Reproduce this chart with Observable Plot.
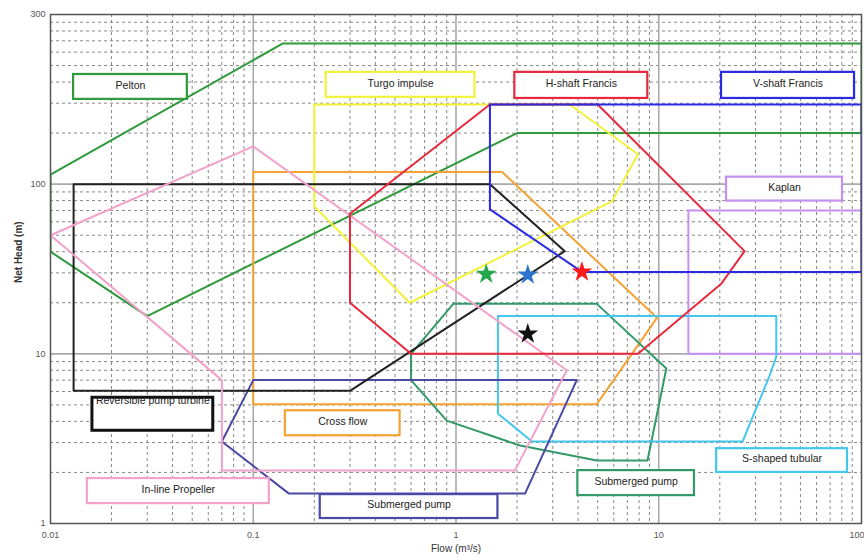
<!DOCTYPE html>
<html><head><meta charset="utf-8">
<script src="https://cdn.jsdelivr.net/npm/d3@7"></script>
<script src="https://cdn.jsdelivr.net/npm/@observablehq/plot@0.6"></script>
<style>body{margin:0;background:#fff;}</style>
</head><body><div id="chart"></div>
<script>
// Tick values and labels
const xTicks = [0.01, 0.1, 1, 10, 100];
const xTickLabels = ["0.01", "0.1", "1", "10", "100"];
const yTicks = [1, 10, 100, 1000];
const yTickLabels = ["1", "10", "100", "300"];

// Application ranges: [flow m3/s, net head m] vertices
const pelton = [[0.01,114],[0.14,675],[100,675],[100,200],[2,200],[0.03,16.7],[0.01,40]];
const turgo = [[0.2,295],[3.64,295],[7.9,150],[5.9,79.5],[0.59,20],[0.2,74]];
const hFrancis = [[1.47,295],[5,295],[26.5,40.3],[20.4,26],[7.9,10],[0.6,10],[0.3,20],[0.3,67]];
const vFrancis = [[1.47,295],[100,295],[100,30.4],[4.18,30.4],[1.47,71]];
const kaplan = [[14,70],[100,70],[100,10],[14,10]];
const crossFlow = [[0.1,118],[1.69,118],[9.8,16.3],[4.95,5.05],[0.1,5.05]];
const reversible = [[0.013,100],[1.47,100],[3.44,40.3],[0.3,6.05],[0.013,6.05]];
const inlineProp = [[0.01,50],[0.1,167],[3.52,8],[1.95,2.05],[0.07,2.05],[0.07,7],[0.01,50]];
const submergedNavy = [[0.07,3.04],[0.1,7],[3.94,7],[2.19,1.5],[0.15,1.5]];
const submergedGreen = [[0.6,10],[0.97,19.7],[4.95,19.7],[10.9,8.2],[8.8,2.35],[4.95,2.35],[2.07,2.88],[0.9,4.04],[0.6,7]];
const sTubular = [[1.61,16.7],[38,16.7],[38,9.6],[35,7.3],[25.9,3.04],[2.37,3.04],[1.61,4.44]];

const shapeNames = ["Pelton","Kaplan","Cross flow","Turgo impulse","Submerged pump (green)","S-shaped tubular","Submerged pump","Reversible pump turbine","In-line Propeller","H-shaft Francis","V-shaft Francis"];
const shapeData = [pelton,kaplan,crossFlow,turgo,submergedGreen,sTubular,submergedNavy,reversible,inlineProp,hFrancis,vFrancis];
const shapeColors = ["#2f9a3c","#c690f0","#f5a234","#f2f23a","#34996a","#44c6ee","#4b48a6","#222222","#f2a2c8","#e8283c","#2a2ae2"];

// Operating points (stars)
const starFlow = [1.41, 2.26, 4.18, 2.26];
const starHead = [29.5, 29.2, 30.4, 13.1];
const starColors = ["#22a84a", "#2d72cc", "#ff1a1a", "#111111"];

// Label boxes (annotation positions in data units)
const labelText = ["Pelton","Turgo impulse","H-shaft Francis","V-shaft Francis","Kaplan","Reversible pump turbine","Cross flow","In-line Propeller","Submerged pump","Submerged pump","S-shaped tubular"];
const labelColors = ["#2f9a3c","#f2f23a","#e8283c","#2a2ae2","#c690f0","#111111","#f5a234","#f2a2c8","#4b48a6","#34996a","#44c6ee"];
const labelX1 = [0.013,0.229,1.95,20.4,21.6,0.0161,0.144,0.0152,0.214,3.99,19.3];
const labelX2 = [0.0473,1.24,8.83,92.4,80.6,0.0635,0.53,0.12,1.61,15.0,85.3];
const labelY1 = [443,456,456,456,110,5.51,4.62,1.84,1.48,2.05,2.76];
const labelY2 = [316,325,320,320,79.5,3.52,3.29,1.31,1.07,1.46,2.0];

const lines = [];
shapeData.forEach((pts, i) => {
  pts.concat([pts[0]]).forEach(p => lines.push({name: shapeNames[i], color: shapeColors[i], flow: p[0], head: p[1]}));
});
const stars = starFlow.map((f, i) => ({flow: f, head: starHead[i], color: starColors[i]}));
const labels = labelText.map((t, i) => ({text: t, color: labelColors[i], x1: labelX1[i], x2: labelX2[i], y1: labelY1[i], y2: labelY2[i], top: t.startsWith("Reversible")}));

const minorX = [], minorY = [];
[0.01, 0.1, 1, 10].forEach(d => { for (let k = 2; k <= 9; k++) minorX.push(d * k); });
[1, 10, 100].forEach(d => { for (let k = 2; k <= 9; k++) minorY.push(d * k); });

const chart = Plot.plot({
  width: 864, height: 558,
  marginLeft: 50, marginRight: 3, marginTop: 14, marginBottom: 35,
  x: {type: "log", domain: [0.01, 100]},
  y: {type: "log", domain: [1, 1000]},
  color: {type: "identity"},
  style: {fontFamily: "Liberation Sans, Arial, sans-serif", background: "#fff"},
  marks: [
    Plot.ruleX(minorX, {stroke: "#888", strokeWidth: 1, strokeDasharray: "3,3"}),
    Plot.ruleY(minorY, {stroke: "#888", strokeWidth: 1, strokeDasharray: "3,3"}),
    Plot.ruleX([0.1, 1, 10], {stroke: "#aaa", strokeWidth: 1.6}),
    Plot.ruleY([10, 100], {stroke: "#aaa", strokeWidth: 1.6}),
    Plot.line(lines, {x: "flow", y: "head", z: "name", stroke: "color", strokeWidth: 2, clip: true, curve: "linear"}),
    Plot.dot(stars, {x: "flow", y: "head", fill: "color", symbol: "star", r: 6.5, stroke: "none"}),
    Plot.rect(labels, {x1: "x1", x2: "x2", y1: "y1", y2: "y2", fill: "white", stroke: "color", strokeWidth: d => d.top ? 3 : 2.2}),
    Plot.text(labels.filter(d => !d.top), {x: d => Math.sqrt(d.x1 * d.x2), y: d => Math.sqrt(d.y1 * d.y2), text: "text", fontSize: 10.5, fill: "#222", dy: -1.5}),
    Plot.text(labels.filter(d => d.top), {x: d => Math.sqrt(d.x1 * d.x2), y: "y1", text: "text", fontSize: 10.5, fill: "#222", lineAnchor: "top", dy: -1}),
    Plot.frame({stroke: "#555", strokeWidth: 1.5}),
    Plot.axisX(xTicks.slice(0, -1), {tickSize: 0, tickPadding: 8, tickFormat: d => xTickLabels[xTicks.indexOf(d)], fontSize: 9, fill: "#555", label: null}),
    Plot.axisX(xTicks.slice(-1), {tickSize: 0, tickPadding: 8, tickFormat: d => xTickLabels[xTicks.indexOf(d)], fontSize: 9, fill: "#555", label: null, textAnchor: "end", dx: 3}),
    Plot.axisY(yTicks, {tickSize: 0, tickPadding: 5, tickFormat: d => yTickLabels[yTicks.indexOf(d)], fontSize: 9, fill: "#555", label: null}),
    Plot.text(["Flow (m³/s)"], {frameAnchor: "bottom", dy: 28, fontSize: 10, fill: "#333"}),
    Plot.text(["Net Head (m)"], {frameAnchor: "left", dx: -32, dy: 14, rotate: -90, fontSize: 10, fontWeight: "bold", fill: "#333"})
  ]
});
document.getElementById("chart").appendChild(chart);
</script>
</body></html>
